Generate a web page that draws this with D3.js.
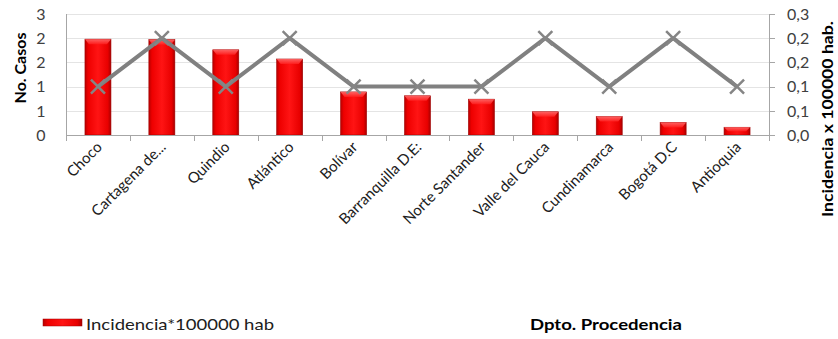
<!DOCTYPE html>
<html><head><meta charset="utf-8">
<script src="https://cdn.jsdelivr.net/npm/d3@7"></script>
<style>body{margin:0;background:#fff}svg{display:block;font-family:Lato,"Open Sans",sans-serif}</style>
</head><body><svg id="c" width="838" height="339"></svg>
<script>
const categories = ["Choco","Cartagena de...","Quindio","Atlántico","Bolívar","Barranquilla D.E:","Norte Santander","Valle del Cauca","Cundinamarca","Bogotá D.C","Antioquia"];
const incidencia = [0.198,0.197,0.176,0.157,0.089,0.081,0.074,0.048,0.038,0.026,0.016];
const casos = [1,2,1,2,1,1,1,2,1,2,1];
const leftTicks = [0,0.5,1,1.5,2,2.5];
const leftTickLabels = ["0","1","1","2","2","3"];
const rightTicks = [0,0.05,0.1,0.15,0.2,0.25];
const rightTickLabels = ["0,0","0,1","0,1","0,2","0,2","0,3"];

const svg = d3.select("#c");
const L = 66, R = 769, T = 14, B = 135;
const x = d3.scaleBand().domain(categories).range([L, R]).paddingInner(0).paddingOuter(0);
const yL = d3.scaleLinear().domain([0, 2.5]).range([B, T]);
const yR = d3.scaleLinear().domain([0, 0.25]).range([B, T]);

const defs = svg.append("defs");
const g1 = defs.append("linearGradient").attr("id","bar").attr("x1","0").attr("x2","1").attr("y1","0").attr("y2","0");
g1.append("stop").attr("offset","0").attr("stop-color","#b80000");
g1.append("stop").attr("offset","0.12").attr("stop-color","#ee0000");
g1.append("stop").attr("offset","0.5").attr("stop-color","#ff1414");
g1.append("stop").attr("offset","0.88").attr("stop-color","#e80000");
g1.append("stop").attr("offset","1").attr("stop-color","#a80000");
const g2 = defs.append("linearGradient").attr("id","bev").attr("x1","0").attr("x2","0").attr("y1","0").attr("y2","1");
g2.append("stop").attr("offset","0").attr("stop-color","#ff7070");
g2.append("stop").attr("offset","1").attr("stop-color","#ff2020");

// gridlines
svg.append("g").selectAll("line").data(leftTicks.slice(1)).join("line")
  .attr("x1", L).attr("x2", R).attr("y1", d => Math.round(yL(d))+0.5).attr("y2", d => Math.round(yL(d))+0.5)
  .attr("stroke", "#e4e4e4").attr("stroke-width", 1);

// bars
const bw = 26;
const bars = svg.append("g").selectAll("g").data(categories).join("g");
bars.append("rect")
  .attr("x", d => x(d) + x.bandwidth()/2 - bw/2)
  .attr("y", (d,i) => yR(incidencia[i]))
  .attr("width", bw)
  .attr("height", (d,i) => B - yR(incidencia[i]))
  .attr("fill", "url(#bar)").attr("stroke", "#a00000").attr("stroke-width", 0.6);
bars.append("path")
  .attr("d", (d,i) => {
    const x0 = x(d) + x.bandwidth()/2 - bw/2, y0 = yR(incidencia[i]);
    const h = Math.min(5, (B - y0)/2), inset = 4;
    return `M${x0},${y0}L${x0+bw},${y0}L${x0+bw-inset},${y0+h}L${x0+inset},${y0+h}Z`;
  })
  .attr("fill", "url(#bev)").attr("opacity", 0.85);

// axes
const axisColor = "#a6a6a6";
svg.append("line").attr("x1", L+0.5).attr("x2", L+0.5).attr("y1", T).attr("y2", B).attr("stroke", axisColor);
svg.append("line").attr("x1", R+0.5).attr("x2", R+0.5).attr("y1", T).attr("y2", B).attr("stroke", axisColor);
svg.append("line").attr("x1", L).attr("x2", R+1).attr("y1", B+0.5).attr("y2", B+0.5).attr("stroke", axisColor);

const bounds = categories.map(c => x(c)).concat([R]);
svg.append("g").selectAll("line").data(bounds).join("line")
  .attr("x1", d => Math.round(d)+0.5).attr("x2", d => Math.round(d)+0.5)
  .attr("y1", B).attr("y2", B+6).attr("stroke", axisColor);
svg.append("g").selectAll("line").data(rightTicks).join("line")
  .attr("x1", R).attr("x2", R+6).attr("y1", d => Math.round(yR(d))+0.5).attr("y2", d => Math.round(yR(d))+0.5)
  .attr("stroke", axisColor);

// tick labels
svg.append("g").selectAll("text").data(leftTicks).join("text")
  .attr("x", 41).attr("y", d => yL(d)).attr("dy", "0.36em")
  .attr("text-anchor", "middle").attr("font-size", 16).attr("fill", "#404040")
  .text((d,i) => leftTickLabels[i]);
svg.append("g").selectAll("text").data(rightTicks).join("text")
  .attr("x", 787).attr("y", d => yR(d)).attr("dy", "0.36em")
  .attr("text-anchor", "start").attr("font-size", 16).attr("fill", "#404040")
  .text((d,i) => rightTickLabels[i]);

// line
const lineGen = d3.line().x((d,i) => x(categories[i]) + x.bandwidth()/2).y(d => yL(d));
svg.append("path").datum(casos).attr("d", lineGen).attr("fill", "none")
  .attr("stroke", "#808080").attr("stroke-width", 4).attr("stroke-linejoin", "round");
const ms = 7;
svg.append("g").selectAll("path").data(casos).join("path")
  .attr("transform", (d,i) => `translate(${x(categories[i]) + x.bandwidth()/2},${yL(d)})`)
  .attr("d", `M${-ms},${-ms}L${ms},${ms}M${-ms},${ms}L${ms},${-ms}`)
  .attr("stroke", "#858585").attr("stroke-width", 2.5).attr("fill", "none");

// category labels
svg.append("g").selectAll("text").data(categories).join("text")
  .attr("transform", d => `translate(${x(d) + x.bandwidth()/2 + 5},${B + 13}) rotate(-45)`)
  .attr("text-anchor", "end").attr("font-size", 15).attr("fill", "#202020")
  .text(d => d);

// axis titles
svg.append("text").attr("transform", "translate(26,68) rotate(-90)")
  .attr("text-anchor", "middle").attr("font-size", 16).attr("font-weight", "bold").attr("fill", "#000")
  .text("No. Casos");
svg.append("text").attr("transform", "translate(833,119) rotate(-90)")
  .attr("text-anchor", "middle").attr("font-size", 16).attr("font-weight", "bold").attr("fill", "#000")
  .attr("textLength", 196).attr("lengthAdjust", "spacingAndGlyphs")
  .text("Incidencia x 100000 hab.");
svg.append("text").attr("x", 530).attr("y", 330)
  .attr("font-size", 16).attr("font-weight", "bold").attr("fill", "#000")
  .attr("textLength", 152).attr("lengthAdjust", "spacingAndGlyphs")
  .text("Dpto. Procedencia");

// legend
svg.append("rect").attr("x", 43).attr("y", 319).attr("width", 39).attr("height", 7)
  .attr("fill", "url(#bar)").attr("stroke", "#a00000").attr("stroke-width", 0.5);
svg.append("text").attr("x", 86).attr("y", 330).attr("font-size", 16).attr("fill", "#202020")
  .attr("textLength", 188).attr("lengthAdjust", "spacingAndGlyphs")
  .text("Incidencia*100000 hab");
</script></body></html>
